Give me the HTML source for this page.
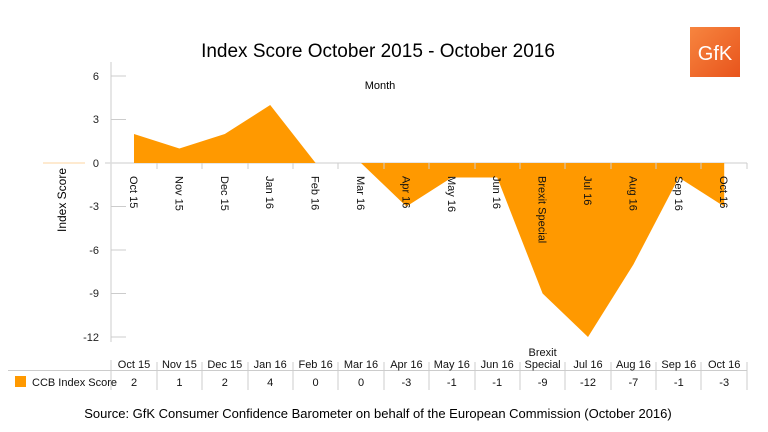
<!DOCTYPE html>
<html><head><meta charset="utf-8"><style>
body{margin:0;background:#fff;}
svg{display:block;font-family:"Liberation Sans",Arial,sans-serif;}
</style></head><body>
<svg width="768" height="432" viewBox="0 0 768 432">
<text x="378" y="57" font-size="19" text-anchor="middle" fill="#000">Index Score October 2015 - October 2016</text>
<defs><linearGradient id="g" x1="0" y1="0" x2="1" y2="1"><stop offset="0" stop-color="#f7853f"/><stop offset="1" stop-color="#e8541c"/></linearGradient></defs>
<rect x="690" y="27" width="50" height="50" fill="url(#g)"/>
<text x="715" y="60" font-size="20" fill="#fff" text-anchor="middle">GfK</text>
<text x="380" y="89" font-size="11" text-anchor="middle">Month</text>
<line x1="111" y1="62" x2="111" y2="342" stroke="#ccc" stroke-width="1"/>
<g stroke="#ccc">
<line x1="111" y1="76" x2="126" y2="76"/>
<line x1="111" y1="119.5" x2="126" y2="119.5"/>
<line x1="111" y1="206.5" x2="126" y2="206.5"/>
<line x1="111" y1="250" x2="126" y2="250"/>
<line x1="111" y1="293.5" x2="126" y2="293.5"/>
<line x1="111" y1="337" x2="126" y2="337"/>
</g>
<g font-size="11" text-anchor="end" fill="#222">
<text x="99" y="80">6</text><text x="99" y="123">3</text><text x="99" y="167">0</text>
<text x="99" y="210">-3</text><text x="99" y="254">-6</text><text x="99" y="297">-9</text><text x="99" y="341">-12</text>
</g>
<text transform="translate(66,200) rotate(-90)" font-size="12" text-anchor="middle">Index Score</text>
<line x1="43" y1="163" x2="85" y2="163" stroke="#fde3c0" stroke-width="1.5"/>
<line x1="105" y1="163" x2="747" y2="163" stroke="#ddd" stroke-width="1.5"/>
<polygon fill="#ff9900" points="134,163 134,134 179.4,148.5 224.8,134 270.2,105 315.6,163 361,163 406.4,206.5 451.8,177.5 497.2,177.5 542.6,293.5 588,337 633.4,264.5 678.8,177.5 724.2,206.5 724.2,163"/>
<g stroke="#ccc">
<line x1="157" y1="163" x2="157" y2="169"/><line x1="202" y1="163" x2="202" y2="169"/><line x1="248" y1="163" x2="248" y2="169"/><line x1="293" y1="163" x2="293" y2="169"/><line x1="338" y1="163" x2="338" y2="169"/><line x1="384" y1="163" x2="384" y2="169"/><line x1="429" y1="163" x2="429" y2="169"/><line x1="475" y1="163" x2="475" y2="169"/><line x1="520" y1="163" x2="520" y2="169"/><line x1="565" y1="163" x2="565" y2="169"/><line x1="611" y1="163" x2="611" y2="169"/><line x1="656" y1="163" x2="656" y2="169"/><line x1="701" y1="163" x2="701" y2="169"/><line x1="747" y1="163" x2="747" y2="169"/>
</g>
<g font-size="11" fill="#111">
<text transform="translate(130,176) rotate(90)">Oct 15</text>
<text transform="translate(175.4,176) rotate(90)">Nov 15</text>
<text transform="translate(220.8,176) rotate(90)">Dec 15</text>
<text transform="translate(266.2,176) rotate(90)">Jan 16</text>
<text transform="translate(311.6,176) rotate(90)">Feb 16</text>
<text transform="translate(357,176) rotate(90)">Mar 16</text>
<text transform="translate(402.4,176) rotate(90)">Apr 16</text>
<text transform="translate(447.8,176) rotate(90)">May 16</text>
<text transform="translate(493.2,176) rotate(90)">Jun 16</text>
<text transform="translate(538.6,176) rotate(90)">Brexit Special</text>
<text transform="translate(584,176) rotate(90)">Jul 16</text>
<text transform="translate(629.4,176) rotate(90)">Aug 16</text>
<text transform="translate(674.8,176) rotate(90)">Sep 16</text>
<text transform="translate(720.2,176) rotate(90)">Oct 16</text>
</g>
<line x1="8" y1="370.5" x2="747" y2="370.5" stroke="#ccc"/>
<g stroke="#ccc">
<line x1="111" y1="360" x2="111" y2="390"/><line x1="157" y1="362" x2="157" y2="390"/><line x1="202" y1="362" x2="202" y2="390"/><line x1="248" y1="362" x2="248" y2="390"/><line x1="293" y1="362" x2="293" y2="390"/><line x1="338" y1="362" x2="338" y2="390"/><line x1="384" y1="362" x2="384" y2="390"/><line x1="429" y1="362" x2="429" y2="390"/><line x1="475" y1="362" x2="475" y2="390"/><line x1="520" y1="362" x2="520" y2="390"/><line x1="565" y1="362" x2="565" y2="390"/><line x1="611" y1="362" x2="611" y2="390"/><line x1="656" y1="362" x2="656" y2="390"/><line x1="701" y1="362" x2="701" y2="390"/><line x1="747" y1="362" x2="747" y2="390"/>
</g>
<g font-size="11" text-anchor="middle" fill="#111">
<text x="134" y="368">Oct 15</text><text x="179.4" y="368">Nov 15</text><text x="224.8" y="368">Dec 15</text><text x="270.2" y="368">Jan 16</text><text x="315.6" y="368">Feb 16</text><text x="361" y="368">Mar 16</text><text x="406.4" y="368">Apr 16</text><text x="451.8" y="368">May 16</text><text x="497.2" y="368">Jun 16</text><text x="542.6" y="356">Brexit</text><text x="542.6" y="368">Special</text><text x="588" y="368">Jul 16</text><text x="633.4" y="368">Aug 16</text><text x="678.8" y="368">Sep 16</text><text x="724.2" y="368">Oct 16</text>
<text x="134" y="386">2</text><text x="179.4" y="386">1</text><text x="224.8" y="386">2</text><text x="270.2" y="386">4</text><text x="315.6" y="386">0</text><text x="361" y="386">0</text><text x="406.4" y="386">-3</text><text x="451.8" y="386">-1</text><text x="497.2" y="386">-1</text><text x="542.6" y="386">-9</text><text x="588" y="386">-12</text><text x="633.4" y="386">-7</text><text x="678.8" y="386">-1</text><text x="724.2" y="386">-3</text>
</g>
<rect x="15" y="376" width="11" height="11" fill="#ff9900"/>
<text x="32" y="386" font-size="11" fill="#111">CCB Index Score</text>
<text x="378" y="418" font-size="13" text-anchor="middle" fill="#000">Source: GfK Consumer Confidence Barometer on behalf of the European Commission (October 2016)</text>
</svg>
</body></html>
